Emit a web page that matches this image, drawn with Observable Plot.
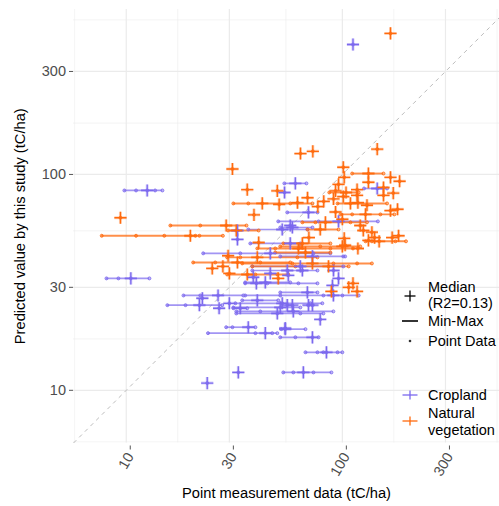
<!DOCTYPE html>
<html><head><meta charset="utf-8">
<script src="https://cdn.jsdelivr.net/npm/d3@7"></script>
<script src="https://cdn.jsdelivr.net/npm/@observablehq/plot@0.6"></script>
<style>
body{margin:0;background:#fff;font-family:"Liberation Sans",Arial,sans-serif;}
#wrap{position:relative;width:499px;height:506px;overflow:hidden;}
#legend{position:absolute;left:0;top:0;}
</style></head><body><div id="wrap"></div>
<script>
// ---- categories, ticks ----
const categories = ["Cropland", "Natural vegetation"];
const majorTicks = [10, 30, 100, 300];
const minorTicks = [5.77, 17.3, 54.8, 173, 520];
const axisLimits = [5.7, 581];

// ---- Cropland: sites with a single measurement ----
const cropSingleX = [112, 32.7, 32.7, 54, 57.4, 22.5, 30, 26.9, 33, 23.7, 90, 79, 38.7, 46.4, 56.2, 65.3, 91, 96, 69.7, 72.7, 58.7, 55.6, 54.4];
const cropSingleY = [400, 50, 55, 82.5, 58, 26.7, 25.3, 24, 12.1, 10.8, 30.6, 21.3, 33.4, 34.8, 34.1, 35.9, 35.9, 33, 24.8, 24.8, 24.8, 24.8, 19.4];
// ---- Cropland: sites with several measurements (median, min, max, other points) ----
const cropBarX   = [12.5, 60.6, 145, 10.5, 26.6, 21.8, 33.7, 36.7, 44, 40, 90.9, 68.9, 59.3, 50, 40.4, 52.7, 51.6, 54.4, 72.7, 84.4, 66, 69.7, 96, 58.7, 52.7, 57.4, 72.7, 46.4, 55.6, 63.9, 44];
const cropBarY   = [84.3, 90.9, 86.1, 33, 27.5, 24.8, 24, 19.6, 18.4, 31.3, 27.5, 28.4, 23.2, 22.7, 26.1, 25.3, 24.2, 19.2, 17.6, 15, 12.1, 66.7, 60.6, 56.8, 55.6, 47.9, 41.7, 43.1, 35.9, 37.5, 31.6];
const cropBarMin = [9.8, 53.9, 126, 8.1, 18.4, 15.5, 31.3, 29, 23.9, 35.5, 35.5, 51.6, 32.3, 32.3, 34.4, 32, 31.3, 52.2, 51.6, 67.5, 53.3, 55.6, 50.5, 51.6, 36.7, 37.5, 51.6, 22.7, 38.3, 38.3, 35.5];
const cropBarMax = [14.7, 68.2, 161, 12.8, 34.8, 27.8, 36.3, 39.6, 50, 76.7, 119, 76.7, 90.9, 81.7, 50.5, 80.8, 63.9, 67.5, 77.6, 100, 89, 76.7, 146, 72.7, 68.9, 63.9, 103, 88, 76.7, 101, 57.4];
const cropBarPts = [[11.1,13.6],[],[],[9.2],[22],[18.8],[],[31],[39.6,47.4],[45,62.6],[51.6,81.7,100],[],[41.7],[63.9],[],[71.1],[],[],[60.6],[76.7,81.7,95],[59.3,73.5],[],[77.6],[],[],[],[101],[33.7,73.5],[],[],[]];

// ---- Natural vegetation: single measurement sites ----
const natSingleX = [167, 64, 73, 31, 101, 145, 102, 167, 184, 132, 9.4, 36.3, 50, 96, 155, 172, 93, 155, 117, 69, 91, 82, 118, 130, 77, 167, 180, 39, 93, 100, 121, 125, 137, 141, 132, 170, 182, 29.6, 25, 28, 30, 41, 50.5, 107, 112, 117, 89, 70, 102, 103, 118, 51, 62, 101, 117];
const natSingleY = [450, 125, 128, 106, 108, 131, 97, 97, 93, 92, 63, 85, 84, 90, 87, 82, 84, 80, 80, 78, 77, 75, 74, 72, 71, 68, 69, 65, 67, 62, 58, 55, 54, 51, 49.5, 51, 52, 42, 36.7, 37.5, 34.8, 48.4, 33, 30, 31.3, 28.7, 28.7, 51, 50.6, 47, 45.4, 72.6, 74, 79, 85];
// ---- Natural vegetation: multi-measurement sites ----
const natBarX   = [19.8, 29, 32.3, 132, 104, 42.6, 109, 128, 83.5, 148, 65.3, 100, 62.6, 67.5, 40.4, 32.7, 72.7, 86.3, 36.3, 79];
const natBarY   = [52, 58, 55, 101, 82.5, 73.4, 73.4, 65.3, 60, 49, 47.9, 46.4, 45.4, 43.5, 41.3, 39.1, 38.7, 37.5, 34.4, 55.6];
const natBarMin = [7.7, 16, 29.6, 111, 87, 31.3, 95, 98, 65.3, 128, 53.3, 51.6, 40.4, 48.9, 29.3, 20.4, 34.4, 38.3, 29.3, 69];
const natBarMax = [28, 36, 41, 155, 119, 72.7, 161, 174, 130, 197, 88, 121, 112, 88, 76.7, 57.4, 137, 107, 56.2, 96];
const natBarPts = [[11.1,15,20.9,21.8],[22],[],[],[],[36.7,57.4],[],[111,150],[75,109],[137,176],[],[64,79],[48.9,88],[],[33.7,61.9],[25.8,41.7],[58.7,90.9,117],[60.6],[39.6,50],[]];

const PURPLE = "#7B68EE", ORANGE = "#FF6A0D";

// ---- build tables ----
const medians = [], bars = [], points = [];
function addCat(cat, sx, sy, bx, by, bmin, bmax, bpts) {
  sx.forEach((x, i) => { medians.push({cat, x, y: sy[i]}); points.push({cat, x, y: sy[i]}); });
  bx.forEach((x, i) => {
    const y = by[i];
    medians.push({cat, x, y});
    bars.push({cat, y, x1: bmin[i], x2: bmax[i]});
    [bmin[i], bmax[i], x, ...bpts[i]].forEach(px => points.push({cat, x: px, y}));
  });
}
addCat("Cropland", cropSingleX, cropSingleY, cropBarX, cropBarY, cropBarMin, cropBarMax, cropBarPts);
addCat("Natural vegetation", natSingleX, natSingleY, natBarX, natBarY, natBarMin, natBarMax, natBarPts);
const byCat = c => d => d.cat === c;

const FONT = "Liberation Sans, Arial, Helvetica, sans-serif";
const plot = Plot.plot({
  width: 499, height: 506,
  marginLeft: 73, marginRight: 0, marginTop: 9, marginBottom: 63.5,
  x: {type: "log", domain: axisLimits, range: [73, 507]},
  y: {type: "log", domain: axisLimits, range: [442.5, 9]},
  color: {domain: categories, range: [PURPLE, ORANGE]},
  style: {fontFamily: FONT, background: "white"},
  marks: [
    Plot.gridX(minorTicks, {stroke: "#ececec", strokeOpacity: 1, strokeWidth: 0.6}),
    Plot.gridY(minorTicks, {stroke: "#ececec", strokeOpacity: 1, strokeWidth: 0.6}),
    Plot.gridX(majorTicks, {stroke: "#ebebeb", strokeOpacity: 1, strokeWidth: 1.2}),
    Plot.gridY(majorTicks, {stroke: "#ebebeb", strokeOpacity: 1, strokeWidth: 1.2}),
    Plot.link([{a: axisLimits[0], b: axisLimits[1]}], {x1: "a", y1: "a", x2: "b", y2: "b", stroke: "#bdbdbd", strokeWidth: 1, strokeDasharray: "4,4"}),
    Plot.ruleY(bars.filter(byCat("Cropland")), {y: "y", x1: "x1", x2: "x2", stroke: "cat", strokeWidth: 1.7, strokeOpacity: 0.7}),
    Plot.ruleY(bars.filter(byCat("Natural vegetation")), {y: "y", x1: "x1", x2: "x2", stroke: "cat", strokeWidth: 1.9, strokeOpacity: 0.75}),
    Plot.dot(points, {x: "x", y: "y", r: 1.5, fill: "cat", fillOpacity: 0.5, stroke: "cat", strokeWidth: 0.8}),
    Plot.dot(medians, {x: "x", y: "y", symbol: "plus", r: 4, stroke: "cat", strokeWidth: 3, strokeOpacity: 0.3}),
    Plot.dot(medians, {x: "x", y: "y", symbol: "plus", r: 4, stroke: "cat", strokeWidth: 1.3}),
    Plot.axisY(majorTicks, {tickSize: 4, tickPadding: 3.5, fontSize: 14.5, fill: "#4d4d4d", stroke: "#555", label: null}),
    Plot.axisX(majorTicks, {tickSize: 4, tickPadding: 4, tickRotate: -60, fontSize: 14.5, fill: "#4d4d4d", stroke: "#555", label: null, dx: 4, dy: 3}),
    Plot.text(["Point measurement data (tC/ha)"], {text: d => d, frameAnchor: "bottom", dy: 55, fontSize: 14.7, fill: "black"}),
    Plot.text(["Predicted value by this study (tC/ha)"], {text: d => d, frameAnchor: "left", dx: -53, rotate: -90, textAnchor: "middle", fontSize: 14.7, fill: "black"})
  ]
});
const wrap = document.getElementById("wrap");
wrap.appendChild(plot);

// ---- legend overlay ----
const ns = "http://www.w3.org/2000/svg";
const lg = document.createElementNS(ns, "svg");
lg.setAttribute("id", "legend");
lg.setAttribute("width", 499); lg.setAttribute("height", 506);
lg.style.fontFamily = FONT;
function el(tag, attrs, txt) {
  const e = document.createElementNS(ns, tag);
  for (const k in attrs) e.setAttribute(k, attrs[k]);
  if (txt) e.textContent = txt;
  lg.appendChild(e); return e;
}
function txt(y, s) { el("text", {x: 428, y, "font-size": 14.5, fill: "#000", "dominant-baseline": "central"}, s); }
function plus(cx, cy, col, a, h) {
  el("line", {x1: cx - h, x2: cx + h, y1: cy, y2: cy, stroke: col, "stroke-width": 1.3});
  el("line", {x1: cx, x2: cx, y1: cy - a, y2: cy + a, stroke: col, "stroke-width": 1.3});
}
plus(410, 296, "#000", 5.5, 5.5);
txt(287, "Median"); txt(303, "(R2=0.13)");
el("line", {x1: 402, x2: 418, y1: 321, y2: 321, stroke: "#000", "stroke-width": 1.6});
txt(321, "Min-Max");
el("circle", {cx: 410, cy: 341, r: 1.3, fill: "#333"});
txt(341, "Point Data");
plus(410, 395, PURPLE, 4.5, 7.5);
txt(395, "Cropland");
plus(410, 421, ORANGE, 4.5, 7.5);
txt(413, "Natural"); txt(430, "vegetation");
wrap.appendChild(lg);
</script></body></html>
